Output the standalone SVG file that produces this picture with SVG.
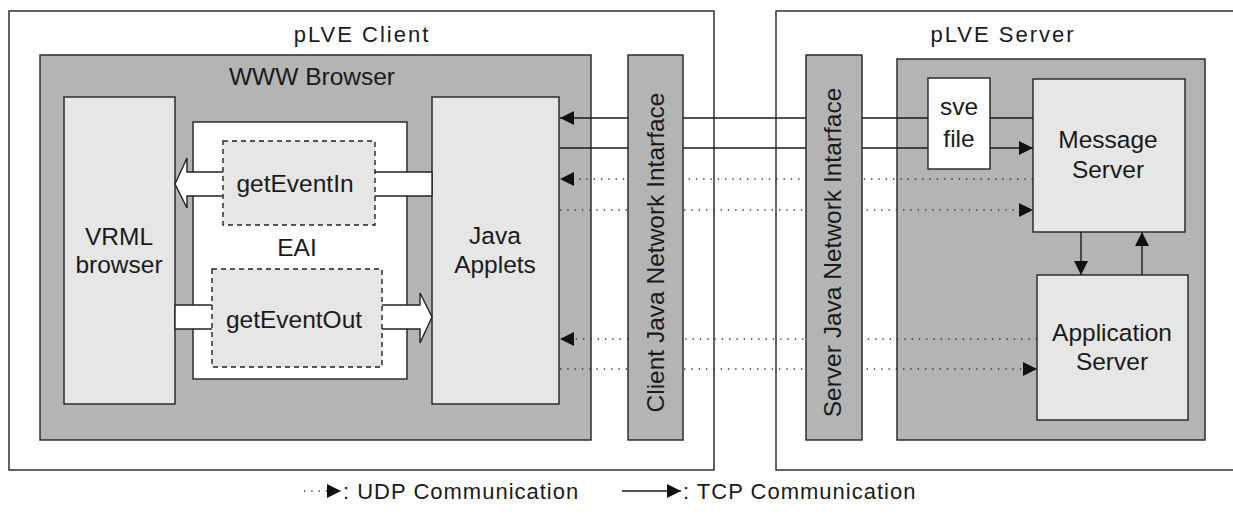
<svg xmlns="http://www.w3.org/2000/svg" width="1233" height="524" viewBox="0 0 1233 524">
  <style>
    text { font-family: "Liberation Sans", Arial, sans-serif; fill: #1a1a1a; }
    .lbl { font-size: 24.5px; text-anchor: middle; }
    .title { font-size: 22px; letter-spacing: 2px; text-anchor: middle; }
    .legend { font-size: 22px; letter-spacing: 1px; }
    .frame { fill: #ffffff; stroke: #222; stroke-width: 1.4; }
    .grey { fill: #b4b4b4; stroke: #222; stroke-width: 1.4; }
    .light { fill: #e6e6e6; stroke: #222; stroke-width: 1.4; }
    .white { fill: #ffffff; stroke: #222; stroke-width: 1.4; }
    .dash { fill: #e6e6e6; stroke: #222; stroke-width: 1.4; stroke-dasharray: 5 4; }
    .tcp { fill: none; stroke: #1a1a1a; stroke-width: 1.4; }
    .udp { fill: none; stroke: #333; stroke-width: 1.4; stroke-dasharray: 1.3 6; }
    .block { fill: #ffffff; stroke: #222; stroke-width: 1.4; }
  </style>
  <defs>
    <marker id="head" viewBox="0 0 14 14" refX="14" refY="7" markerWidth="14" markerHeight="14" markerUnits="userSpaceOnUse" orient="auto">
      <path d="M0,0 L14,7 L0,14 Z" fill="#111"/>
    </marker>
  </defs>

  <rect width="1233" height="524" fill="#ffffff"/>

  <!-- outer frames -->
  <g id="pLVE-client">
    <rect class="frame" x="9" y="11" width="705" height="459"/>
    <text class="title" x="362" y="42">pLVE Client</text>
  </g>
  <g id="pLVE-server">
    <rect class="frame" x="776" y="11" width="470" height="459"/>
    <text class="title" x="1003" y="42">pLVE Server</text>
  </g>

  <!-- containers -->
  <g id="www-browser">
    <rect class="grey" x="40" y="55" width="551" height="385"/>
    <text class="lbl" x="312" y="85">WWW Browser</text>
  </g>
  <g id="server-core">
    <rect class="grey" x="897" y="59" width="308" height="381"/>
  </g>

  <!-- network connectors -->
  <g id="connectors">
    <!-- TCP -->
    <line class="tcp" x1="1033" y1="118" x2="560" y2="118" marker-end="url(#head)"/>
    <line class="tcp" x1="560" y1="148" x2="1033" y2="148" marker-end="url(#head)"/>
    <!-- UDP -->
    <line class="udp" x1="1033" y1="179" x2="560" y2="179" marker-end="url(#head)"/>
    <line class="udp" x1="560" y1="210" x2="1033" y2="210" marker-end="url(#head)"/>
    <line class="udp" x1="1037" y1="339" x2="560" y2="339" marker-end="url(#head)"/>
    <line class="udp" x1="560" y1="369" x2="1037" y2="369" marker-end="url(#head)"/>
    <!-- message server / application server -->
    <line class="tcp" x1="1081" y1="232" x2="1081" y2="275" marker-end="url(#head)"/>
    <line class="tcp" x1="1142" y1="275" x2="1142" y2="232" marker-end="url(#head)"/>
  </g>

  <!-- client side -->
  <g id="vrml-browser">
    <rect class="light" x="64" y="97" width="111" height="307"/>
    <text class="lbl" x="119" y="245">VRML</text>
    <text class="lbl" x="119" y="273">browser</text>
  </g>
  <g id="java-applets">
    <rect class="light" x="432" y="97" width="127" height="307"/>
    <text class="lbl" x="495" y="244">Java</text>
    <text class="lbl" x="495" y="273">Applets</text>
  </g>
  <g id="eai">
    <rect class="white" x="193" y="122" width="214" height="257"/>
    <text class="lbl" x="297" y="256">EAI</text>
  </g>
  <g id="eai-arrows">
    <polygon class="block" points="175,184 187,158 187,172 432,172 432,196 187,196 187,208"/>
    <polygon class="block" points="175,305 420,305 420,293 432,317 420,343 420,329 175,329"/>
  </g>
  <g id="get-event-in">
    <rect class="dash" x="223" y="141" width="152" height="84"/>
    <text class="lbl" x="295" y="192">getEventIn</text>
  </g>
  <g id="get-event-out">
    <rect class="dash" x="212" y="269" width="170" height="98"/>
    <text class="lbl" x="294" y="328">getEventOut</text>
  </g>
  <g id="client-network-interface">
    <rect class="grey" x="628" y="55" width="55" height="385"/>
    <text class="lbl" transform="translate(664,252.5) rotate(-90)">Client Java Network Intarface</text>
  </g>

  <!-- server side -->
  <g id="server-network-interface">
    <rect class="grey" x="806" y="55" width="56" height="385"/>
    <text class="lbl" transform="translate(841,252.5) rotate(-90)">Server Java Network Intarface</text>
  </g>
  <g id="sve-file">
    <rect class="white" x="928" y="78" width="62" height="91"/>
    <text class="lbl" x="959" y="115">sve</text>
    <text class="lbl" x="959" y="147">file</text>
  </g>
  <g id="message-server">
    <rect class="light" x="1033" y="79" width="152" height="153"/>
    <text class="lbl" x="1108" y="148">Message</text>
    <text class="lbl" x="1108" y="178">Server</text>
  </g>
  <g id="application-server">
    <rect class="light" x="1037" y="275" width="151" height="145"/>
    <text class="lbl" x="1112" y="341">Application</text>
    <text class="lbl" x="1112" y="370">Server</text>
  </g>

  <!-- legend -->
  <g id="legend">
    <line class="udp" x1="304" y1="491" x2="341" y2="491" marker-end="url(#head)"/>
    <text class="legend" x="343" y="499">: UDP Communication</text>
    <line class="tcp" x1="622" y1="491" x2="681" y2="491" marker-end="url(#head)"/>
    <text class="legend" x="683" y="499">: TCP Communication</text>
  </g>
</svg>
